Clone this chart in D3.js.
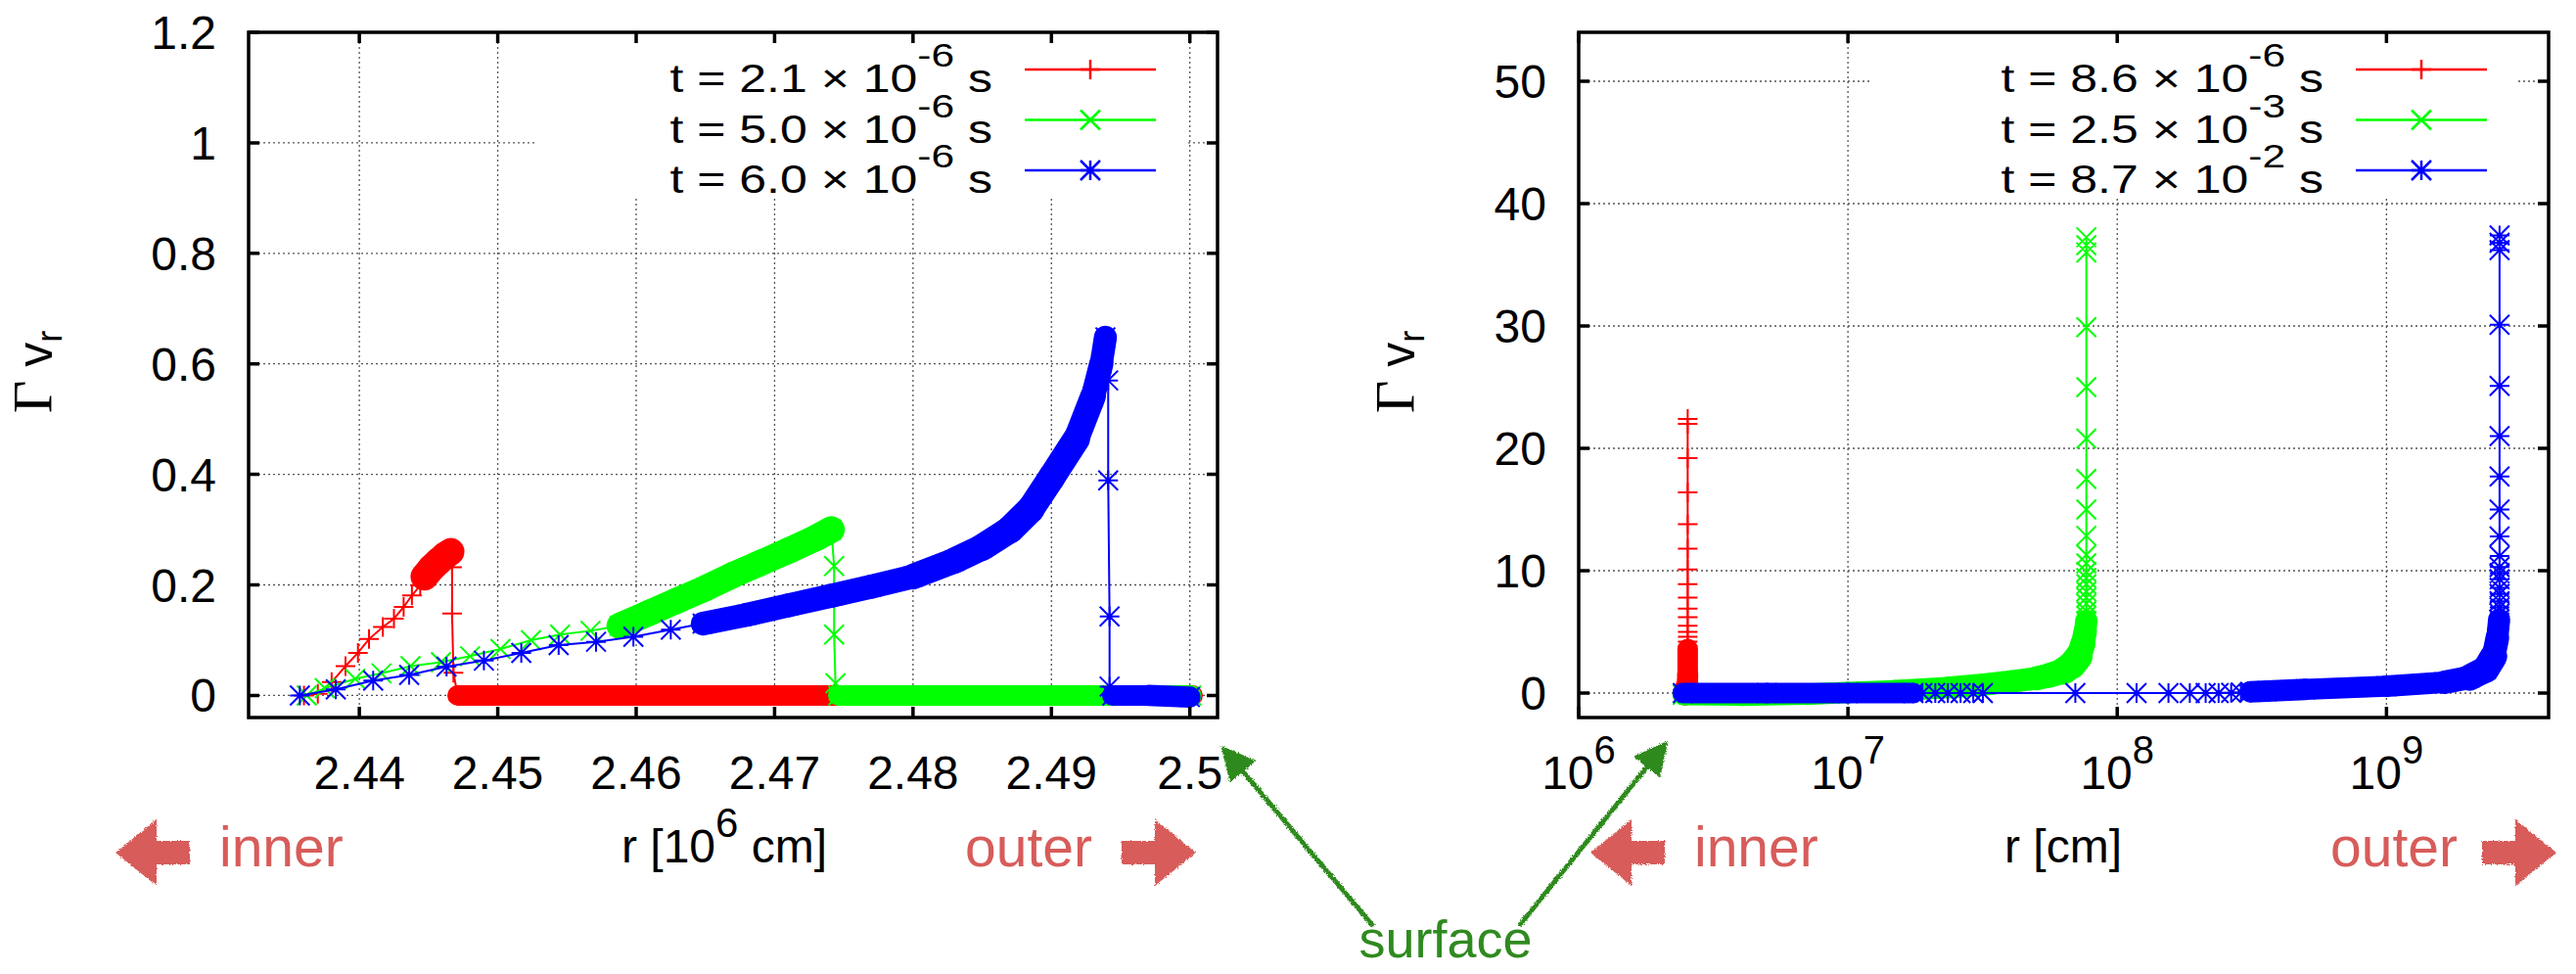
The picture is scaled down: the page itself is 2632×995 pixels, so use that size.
<!DOCTYPE html>
<html>
<head>
<meta charset="utf-8">
<script src="https://cdn.jsdelivr.net/npm/d3@7"></script>
<style>
  body { margin: 0; background: #fff; }
  svg { display: block; }
  text { font-family: "Liberation Sans", Arial, Helvetica, sans-serif; }
</style>
</head>
<body>
<svg id="chart" width="2632" height="995"></svg>
<script>
// ---- data ----
// each point: [r, Gamma*v_r, dense] ; dense = 1 where the points are packed so tightly they form a band
var leftTicksX = [2.44, 2.45, 2.46, 2.47, 2.48, 2.49, 2.5];
var leftTicksY = [0, 0.2, 0.4, 0.6, 0.8, 1, 1.2];
var rightTicksX = [1e6, 1e7, 1e8, 1e9];
var rightTicksY = [0, 10, 20, 30, 40, 50];

var leftMant = ["2.1", "5.0", "6.0"];
var leftExp = ["-6", "-6", "-6"];
var rightMant = ["8.6", "2.5", "8.7"];
var rightExp = ["-6", "-3", "-2"];

var colors = ["#ff0000", "#00ff00", "#0000ff"];
var symbols = ["plus", "cross", "star"];

// left panel, r in 10^6 cm
var red21 = [
  [2.4360, 0.000, 0], [2.4370, 0.003, 0], [2.4380, 0.024, 0], [2.4390, 0.053, 0],
  [2.4399, 0.077, 0], [2.4407, 0.102, 0], [2.4417, 0.124, 0], [2.4425, 0.139, 0],
  [2.4432, 0.160, 0], [2.4438, 0.181, 0], [2.4444, 0.199, 0],
  [2.4447, 0.215, 1], [2.4452, 0.230, 1], [2.4457, 0.242, 1], [2.4462, 0.253, 1], [2.4466, 0.260, 1],
  [2.4467, 0.255, 0], [2.4467, 0.232, 0], [2.4467, 0.148, 0], [2.4468, 0.041, 0],
  [2.4471, 0.000, 1], [2.4600, 0.000, 1], [2.4800, 0.000, 1], [2.5002, 0.000, 1]
];
var green50 = [
  [2.4362, 0.000, 0], [2.4375, 0.013, 0], [2.4397, 0.030, 0], [2.4416, 0.040, 0],
  [2.4437, 0.053, 0], [2.4459, 0.060, 0], [2.4480, 0.071, 0], [2.4502, 0.084, 0],
  [2.4524, 0.100, 0], [2.4545, 0.110, 0], [2.4567, 0.117, 0],
  [2.4588, 0.126, 1], [2.4610, 0.150, 1], [2.4630, 0.172, 1], [2.4650, 0.194, 1],
  [2.4670, 0.218, 1], [2.4690, 0.240, 1], [2.4710, 0.262, 1], [2.4730, 0.285, 1], [2.4741, 0.300, 1],
  [2.4743, 0.234, 0], [2.4743, 0.110, 0], [2.4744, 0.022, 0],
  [2.4746, 0.000, 1], [2.4900, 0.000, 1], [2.5001, 0.000, 1]
];
var blue60 = [
  [2.4357, 0.000, 0], [2.4383, 0.011, 0], [2.4410, 0.027, 0], [2.4436, 0.037, 0],
  [2.4463, 0.052, 0], [2.4490, 0.063, 0], [2.4517, 0.077, 0], [2.4544, 0.091, 0],
  [2.4571, 0.097, 0], [2.4598, 0.106, 0], [2.4625, 0.119, 0],
  [2.4648, 0.130, 1], [2.4680, 0.146, 1], [2.4710, 0.163, 1], [2.4742, 0.181, 1],
  [2.4770, 0.197, 1], [2.4800, 0.215, 1], [2.4830, 0.244, 1], [2.4850, 0.268, 1],
  [2.4870, 0.300, 1], [2.4885, 0.337, 1], [2.4900, 0.394, 1], [2.4918, 0.464, 1],
  [2.4930, 0.541, 1], [2.4936, 0.600, 1], [2.4939, 0.648, 1],
  [2.4941, 0.570, 0], [2.4941, 0.389, 0], [2.4942, 0.143, 0], [2.4942, 0.016, 0],
  [2.4944, 0.000, 1], [2.4970, 0.000, 1], [2.5000, -0.003, 1]
];

// right panel, r in cm
var red86 = [
  [2.436e6, 0, 1], [2.50e6, 0, 1], [2.53e6, 0.4, 1], [2.54e6, 1.5, 1], [2.54e6, 3.6, 1],
  [2.54e6, 3.8, 0], [2.54e6, 4.2, 0], [2.54e6, 4.6, 0], [2.54e6, 5.0, 0], [2.54e6, 5.5, 0],
  [2.54e6, 6.2, 0], [2.54e6, 6.9, 0], [2.54e6, 7.8, 0], [2.54e6, 8.9, 0], [2.54e6, 10.1, 0],
  [2.54e6, 11.8, 0], [2.54e6, 13.8, 0], [2.54e6, 16.4, 0], [2.54e6, 19.2, 0],
  [2.54e6, 22.0, 0], [2.54e6, 22.4, 0]
];
var green25 = [
  [2.436e6, -0.15, 1], [4e6, -0.2, 1], [7e6, -0.1, 1], [1e7, 0.05, 1], [1.5e7, 0.2, 1],
  [2.35e7, 0.45, 1], [3.2e7, 0.7, 1], [4.05e7, 0.95, 1], [5e7, 1.2, 1], [5.6e7, 1.45, 1],
  [6.3e7, 1.8, 1], [6.8e7, 2.3, 1], [7.2e7, 3.0, 1], [7.45e7, 4.0, 1], [7.6e7, 5.0, 1], [7.68e7, 5.9, 1],
  [7.68e7, 6.3, 0], [7.68e7, 6.7, 0], [7.68e7, 7.3, 0], [7.68e7, 7.8, 0], [7.68e7, 8.3, 0],
  [7.68e7, 8.9, 0], [7.68e7, 9.4, 0], [7.68e7, 9.9, 0], [7.68e7, 10.6, 0], [7.68e7, 11.3, 0],
  [7.68e7, 12.85, 0], [7.68e7, 15.0, 0], [7.68e7, 17.5, 0], [7.68e7, 20.8, 0], [7.68e7, 25.0, 0],
  [7.68e7, 29.9, 0], [7.68e7, 36.0, 0], [7.68e7, 36.6, 0], [7.68e7, 37.25, 0]
];
var blue87 = [
  [2.436e6, 0, 1], [5e6, 0, 1], [1e7, 0, 1], [1.75e7, 0, 1],
  [1.89e7, 0, 0], [2.11e7, 0, 0], [2.35e7, 0, 0], [2.62e7, 0, 0], [2.92e7, 0, 0], [3.17e7, 0, 0],
  [6.99e7, 0, 0], [1.18e8, 0, 0], [1.55e8, 0, 0], [1.86e8, 0, 0], [2.13e8, 0, 0], [2.38e8, 0, 0],
  [2.65e8, 0.02, 0], [2.88e8, 0.05, 0],
  [3.12e8, 0.1, 1], [3.6e8, 0.16, 1], [5e8, 0.3, 1], [1e9, 0.56, 1], [1.64e9, 0.88, 1],
  [2.04e9, 1.28, 1], [2.34e9, 1.95, 1], [2.5e9, 3.0, 1], [2.58e9, 4.5, 1], [2.62e9, 6.0, 1],
  [2.63e9, 6.5, 0], [2.63e9, 7.0, 0], [2.63e9, 7.5, 0], [2.63e9, 8.1, 0], [2.63e9, 8.6, 0],
  [2.63e9, 9.3, 0], [2.63e9, 9.8, 0], [2.63e9, 10.3, 0], [2.63e9, 11.2, 0], [2.63e9, 12.8, 0],
  [2.63e9, 15.0, 0], [2.63e9, 17.7, 0], [2.63e9, 21.0, 0], [2.63e9, 25.1, 0], [2.63e9, 30.1, 0],
  [2.63e9, 36.2, 0], [2.63e9, 36.8, 0], [2.63e9, 37.4, 0]
];

// ---- drawing ----
var svg = d3.select("#chart");
var defs = svg.append("defs");
var rough = defs.append("filter").attr("id", "rough")
    .attr("x", "-10%").attr("y", "-10%").attr("width", "120%").attr("height", "120%");
rough.append("feTurbulence").attr("type", "fractalNoise").attr("baseFrequency", 0.9)
    .attr("numOctaves", 2).attr("seed", 3).attr("result", "noise");
rough.append("feDisplacementMap").attr("in", "SourceGraphic").attr("in2", "noise")
    .attr("scale", 4).attr("xChannelSelector", "R").attr("yChannelSelector", "G");

var PT = 10; // half size of a point symbol

function symbolPath(type, x, y, s) {
    var plus = "M" + (x - s) + "," + y + "H" + (x + s) + "M" + x + "," + (y - s) + "V" + (y + s);
    var cross = "M" + (x - s) + "," + (y - s) + "L" + (x + s) + "," + (y + s) +
                "M" + (x - s) + "," + (y + s) + "L" + (x + s) + "," + (y - s);
    if (type == "plus") return plus;
    if (type == "cross") return cross;
    return plus + cross;
}

function panel(opt) {
    var g = svg.append("g"),
        x = opt.x, y = opt.y,
        xl = x.range()[0], xr = x.range()[1],
        yb = y.range()[0], yt = y.range()[1];

    // grid
    g.selectAll(".gx").data(opt.xTicks).join("line")
        .attr("x1", d => x(d)).attr("x2", d => x(d)).attr("y1", yt).attr("y2", yb)
        .attr("stroke", "#555").attr("stroke-width", 1.3).attr("stroke-dasharray", "2,3");
    g.selectAll(".gy").data(opt.yTicks).join("line")
        .attr("x1", xl).attr("x2", xr).attr("y1", d => y(d)).attr("y2", d => y(d))
        .attr("stroke", "#555").attr("stroke-width", 1.3).attr("stroke-dasharray", "2,3");

    // key area is kept clear of grid
    g.append("rect").attr("x", opt.keyBox[0]).attr("y", yt + 2)
        .attr("width", opt.keyBox[1] - opt.keyBox[0]).attr("height", opt.keyBox[2] - yt - 2)
        .attr("fill", "#fff");

    // series
    var line = d3.line().x(d => x(d[0])).y(d => y(d[1]));
    opt.series.forEach(function(pts, i) {
        g.append("path").attr("d", line(pts)).attr("fill", "none")
            .attr("stroke", colors[i]).attr("stroke-width", 2);
        // packed symbols: one thick piece per pair of neighbouring dense points,
        // as wide as a square symbol swept along that direction
        var band = g.append("g").attr("stroke", colors[i]).attr("stroke-linecap", "round");
        for (var k = 1; k < pts.length; k++) {
            if (!pts[k][2] || !pts[k - 1][2]) continue;
            var x0 = x(pts[k - 1][0]), y0 = y(pts[k - 1][1]), x1 = x(pts[k][0]), y1 = y(pts[k][1]);
            var len = Math.hypot(x1 - x0, y1 - y0) || 1;
            var w = 18 * (Math.abs(x1 - x0) + Math.abs(y1 - y0)) / len + 3;
            band.append("line").attr("x1", x0).attr("y1", y0).attr("x2", x1).attr("y2", y1)
                .attr("stroke-width", w);
        }
        g.append("path")
            .attr("d", pts.map(p => symbolPath(symbols[i], x(p[0]), y(p[1]), PT)).join(""))
            .attr("fill", "none").attr("stroke", colors[i]).attr("stroke-width", 2);
    });

    // key
    for (var i = 0; i < 3; i++) {
        var ly = 71 + i * 51.5;
        var t = g.append("text")
            .attr("transform", "translate(" + opt.keyText + "," + (ly + 23) + ") scale(1.25,1)")
            .attr("text-anchor", "end").attr("font-size", 40);
        t.append("tspan").text("t = " + opt.mant[i] + " \u00d7 10");
        t.append("tspan").attr("dy", -26).attr("font-size", 34).text(opt.exp[i]);
        t.append("tspan").attr("dy", 26).attr("font-size", 40).text(" s");
        g.append("line").attr("x1", opt.keyLine[0]).attr("x2", opt.keyLine[1])
            .attr("y1", ly).attr("y2", ly).attr("stroke", colors[i]).attr("stroke-width", 2.5);
        g.append("path")
            .attr("d", symbolPath(symbols[i], (opt.keyLine[0] + opt.keyLine[1]) / 2, ly, PT))
            .attr("fill", "none").attr("stroke", colors[i]).attr("stroke-width", 2.5);
    }

    // frame and ticks
    g.append("rect").attr("x", xl).attr("y", yt).attr("width", xr - xl).attr("height", yb - yt)
        .attr("fill", "none").attr("stroke", "#000").attr("stroke-width", 3.5);
    var tk = "";
    opt.xTicks.forEach(function(d) {
        tk += "M" + x(d) + "," + yb + "v-11M" + x(d) + "," + yt + "v11";
    });
    opt.yTicks.forEach(function(d) {
        tk += "M" + xl + "," + y(d) + "h11M" + xr + "," + y(d) + "h-11";
    });
    g.append("path").attr("d", tk).attr("stroke", "#000").attr("stroke-width", 3.5);

    // tick labels
    g.selectAll(".ly").data(opt.yTicks).join("text")
        .attr("x", xl - 33).attr("y", d => y(d) + 17)
        .attr("text-anchor", "end").attr("font-size", 48).text(d => String(d));
    var xt = g.selectAll(".lx").data(opt.xTicks).join("text")
        .attr("x", d => x(d)).attr("y", 806)
        .attr("text-anchor", "middle").attr("font-size", 48);
    if (opt.log) {
        xt.append("tspan").text("10");
        xt.append("tspan").attr("dy", -26).attr("font-size", 40).text(d => Math.round(Math.log10(d)));
    } else {
        xt.text(d => String(d));
    }

    // axis titles
    var yl = g.append("text")
        .attr("transform", "translate(" + opt.yLabelX + ",380) rotate(-90)")
        .attr("text-anchor", "middle").attr("font-size", 50);
    yl.append("tspan").attr("font-family", "Liberation Serif, serif").attr("font-size", 58).text("\u0393");
    yl.append("tspan").text(" v");
    yl.append("tspan").attr("dy", 10).attr("font-size", 36).text("r");

    var xlab = g.append("text").attr("x", opt.xLabelX).attr("y", 881)
        .attr("text-anchor", "middle").attr("font-size", 48);
    opt.xLabel(xlab);
}

panel({
    x: d3.scaleLinear().domain([2.432, 2.502]).range([254, 1244]),
    y: d3.scaleLinear().domain([-0.04, 1.2]).range([733, 33]),
    xTicks: leftTicksX, yTicks: leftTicksY, log: false,
    series: [red21, green50, blue60],
    mant: leftMant, exp: leftExp,
    keyBox: [548, 1211, 203], keyText: 1014, keyLine: [1047, 1181],
    yLabelX: 53, xLabelX: 740,
    xLabel: function(t) {
        t.append("tspan").text("r [10");
        t.append("tspan").attr("dy", -26).attr("font-size", 42).text("6");
        t.append("tspan").attr("dy", 26).text(" cm]");
    }
});

panel({
    x: d3.scaleLog().domain([1e6, 4e9]).range([1613, 2604]),
    y: d3.scaleLinear().domain([-2, 54]).range([733, 33]),
    xTicks: rightTicksX, yTicks: rightTicksY, log: true,
    series: [red86, green25, blue87],
    mant: rightMant, exp: rightExp,
    keyBox: [1910, 2571, 203], keyText: 2374, keyLine: [2407, 2541],
    yLabelX: 1445, xLabelX: 2108,
    xLabel: function(t) { t.text("r [cm]"); }
});

// ---- annotations below the panels ----
var note = svg.append("g");
var salmon = "#d75c5a", leaf = "#2f8a1f";

function blockArrow(tipX, dir) {
    // dir = -1 points left, +1 points right
    var cy = 871, headLen = 42, headHalf = 34, shaftLen = 34, shaftHalf = 12;
    var b = tipX - dir * headLen, e = b - dir * shaftLen;
    var pts = [[tipX, cy], [b, cy - headHalf], [b, cy - shaftHalf], [e, cy - shaftHalf],
               [e, cy + shaftHalf], [b, cy + shaftHalf], [b, cy + headHalf]];
    note.append("path").attr("d", d3.line()(pts) + "Z").attr("fill", salmon)
        .attr("filter", "url(#rough)");
}
blockArrow(118, -1);
blockArrow(1222, 1);
blockArrow(1625, -1);
blockArrow(2612, 1);

function word(x, anchor, s) {
    note.append("text").attr("x", x).attr("y", 885).attr("text-anchor", anchor)
        .attr("font-family", "Noto Sans, sans-serif").attr("font-size", 57)
        .attr("fill", salmon).text(s);
}
word(224, "start", "inner");
word(1116, "end", "outer");
word(1731, "start", "inner");
word(2511, "end", "outer");

defs.append("marker").attr("id", "head").attr("viewBox", "0 0 10 10")
    .attr("refX", 8).attr("refY", 5).attr("markerWidth", 7).attr("markerHeight", 7)
    .attr("markerUnits", "strokeWidth").attr("orient", "auto")
    .append("path").attr("d", "M0,0L10,5L0,10Z").attr("fill", leaf);

[[1403, 946, 1252, 767], [1552, 946, 1700, 762]].forEach(function(a) {
    note.append("line").attr("x1", a[0]).attr("y1", a[1]).attr("x2", a[2]).attr("y2", a[3])
        .attr("stroke", leaf).attr("stroke-width", 5).attr("marker-end", "url(#head)")
        .attr("filter", "url(#rough)");
});
note.append("text").attr("x", 1477).attr("y", 978).attr("text-anchor", "middle")
    .attr("font-family", "Noto Sans, sans-serif").attr("font-size", 54)
    .attr("fill", leaf).text("surface");
</script>
</body>
</html>
